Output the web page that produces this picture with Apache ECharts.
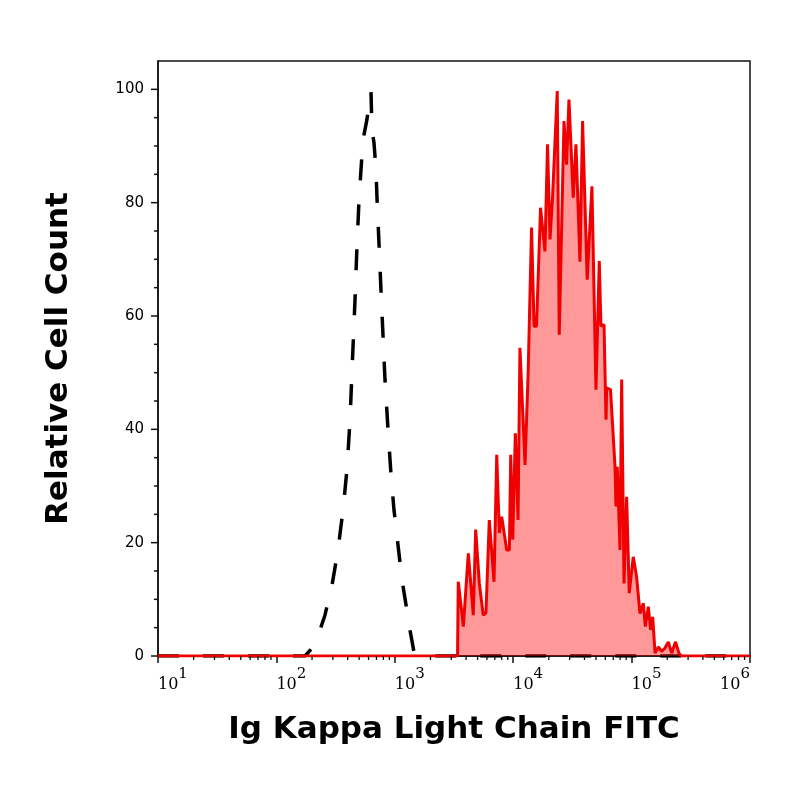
<!DOCTYPE html>
<html><head><meta charset="utf-8">
<script src="https://cdn.jsdelivr.net/npm/echarts@6/dist/echarts.min.js"></script>
<style>html,body{margin:0;padding:0;background:#fff}#c{width:800px;height:800px}</style>
</head><body><div id="c"></div>
<script>
// x values are log10 of fluorescence intensity
const xTickExponents = [1, 2, 3, 4, 5, 6];
const yTickValues = [0, 20, 40, 60, 80, 100];
const yMinorValues = [5, 10, 15, 25, 30, 35, 45, 50, 55, 65, 70, 75, 85, 90, 95];
const xMinorMultipliers = [2, 3, 4, 5, 6, 7, 8, 9];

// Isotype control (black dashed)
const controlLogX = [1, 2.242, 2.301, 2.351, 2.410, 2.470, 2.520, 2.563, 2.596, 2.622, 2.639, 2.664, 2.681, 2.698, 2.723, 2.740, 2.765, 2.782, 2.799, 2.807, 2.824, 2.841, 2.850, 2.867, 2.883, 2.900, 2.917, 2.943, 2.968, 2.993, 3.027, 3.061, 3.095, 3.128, 3.162, 3.196, 6];
const controlCount = [0, 0, 1.4, 3.5, 7.2, 12.5, 18.7, 25.8, 32.9, 41.7, 50.5, 62.9, 72.6, 80.6, 88.5, 92.0, 94.7, 97.3, 99.6, 92.9, 90.6, 85.9, 80.6, 72.6, 64.7, 56.7, 48.8, 39.9, 32.0, 25.8, 19.6, 13.4, 9.0, 4.6, 0.7, 0, 0];

// Ig Kappa stained (red filled)
const stainedLogX = [1, 3.530, 3.536, 3.579, 3.621, 3.663, 3.683, 3.714, 3.747, 3.770, 3.798, 3.838, 3.861, 3.883, 3.903, 3.945, 3.968, 3.979, 3.996, 4.018, 4.041, 4.057, 4.100, 4.127, 4.155, 4.176, 4.197, 4.231, 4.268, 4.290, 4.311, 4.333, 4.372, 4.389, 4.429, 4.451, 4.471, 4.507, 4.530, 4.564, 4.586, 4.625, 4.665, 4.699, 4.727, 4.741, 4.767, 4.784, 4.789, 4.822, 4.860, 4.868, 4.879, 4.902, 4.916, 4.936, 4.958, 4.980, 5.014, 5.042, 5.071, 5.099, 5.116, 5.141, 5.161, 5.178, 5.198, 5.226, 5.254, 5.282, 5.310, 5.338, 5.371, 5.400, 5.420, 6];
const stainedCount = [0, 0, 13.1, 5.2, 18.1, 7.2, 22.3, 12.8, 7.2, 7.6, 24.0, 13.1, 35.5, 21.7, 24.6, 18.7, 18.7, 35.5, 20.5, 39.3, 24.0, 54.4, 33.7, 50.5, 75.6, 58.2, 58.2, 79.1, 71.4, 90.3, 73.5, 81.2, 99.7, 56.7, 94.4, 86.7, 98.2, 80.9, 90.3, 69.6, 94.4, 66.4, 82.9, 47.0, 69.7, 58.2, 58.5, 41.7, 47.3, 47.0, 33.4, 26.4, 33.4, 18.7, 48.8, 12.8, 28.1, 11.1, 17.5, 14.0, 7.5, 9.3, 5.2, 8.7, 4.6, 6.9, 0.5, 1.6, 0.8, 1.4, 2.5, 0.5, 2.5, 0.5, 0, 0];

const controlData = controlLogX.map((x, i) => [x, controlCount[i]]);
const stainedData = stainedLogX.map((x, i) => [x, stainedCount[i]]);

// tick decorations: [kind, value]; kind 0 = x minor, 1 = y minor, 2 = y major
const tickData = [];
for (let d = xTickExponents[0]; d < xTickExponents[xTickExponents.length - 1]; d++) {
  xMinorMultipliers.forEach(m => tickData.push([0, d + Math.log10(m)]));
}
yMinorValues.forEach(v => tickData.push([1, v]));
yTickValues.forEach(v => tickData.push([2, v]));

const chart = echarts.init(document.getElementById('c'), null, {renderer: 'canvas'});
chart.setOption({
  animation: false,
  backgroundColor: '#fff',
  grid: {left: 158, right: 50, top: 61, bottom: 144, show: true, borderColor: '#111', borderWidth: 1.5},
  xAxis: {
    type: 'value', min: 1, max: 6, interval: 1,
    name: 'Ig Kappa Light Chain FITC', nameLocation: 'middle', nameGap: 58,
    nameTextStyle: {fontFamily: 'DejaVu Sans', fontWeight: 'bold', fontSize: 31, color: '#000'},
    axisLine: {show: true, onZero: false, lineStyle: {color: '#111', width: 1.5}},
    axisTick: {show: true, length: 7, lineStyle: {color: '#111', width: 1.5}},
    splitLine: {show: false},
    axisLabel: {
      margin: 11, align: 'left', alignMaxLabel: 'right',
      formatter: v => '{b|10}{s|' + v + '}',
      rich: {
        b: {fontFamily: 'DejaVu Serif', fontSize: 16, color: '#000', lineHeight: 26, verticalAlign: 'bottom'},
        s: {fontFamily: 'DejaVu Serif', fontSize: 15, color: '#000', lineHeight: 15, verticalAlign: 'top'}
      }
    }
  },
  yAxis: {
    type: 'value', min: 0, max: 105, interval: 20,
    name: 'Relative Cell Count', nameLocation: 'middle', nameGap: 84,
    nameTextStyle: {fontFamily: 'DejaVu Sans', fontWeight: 'bold', fontSize: 31, color: '#000'},
    axisLine: {show: true, lineStyle: {color: '#111', width: 1.5}},
    axisTick: {show: false},
    splitLine: {show: false},
    axisLabel: {
      margin: 14, fontFamily: 'DejaVu Sans', fontSize: 15, color: '#000',
      showMaxLabel: false,
      formatter: v => (v % 20 === 0 ? String(v) : '')
    }
  },
  series: [
    {
      type: 'line', data: controlData, showSymbol: false, z: 3,
      lineStyle: {color: '#000', width: 3.5, type: [21, 24]}
    },
    {
      type: 'line', data: stainedData, showSymbol: false, z: 4,
      lineStyle: {color: '#f00000', width: 3},
      areaStyle: {color: 'rgba(255,0,0,0.4)', opacity: 1}
    },
    {
      type: 'custom', data: tickData, z: 5, silent: true,
      renderItem: (params, api) => {
        const kind = api.value(0), v = api.value(1);
        if (kind === 0) {
          const p = api.coord([v, 0]);
          return {type: 'line', shape: {x1: p[0], y1: p[1], x2: p[0], y2: p[1] + 4}, style: {stroke: '#111', lineWidth: 1.3}};
        }
        const p = api.coord([1, v]);
        const len = kind === 2 ? 7 : 4;
        return {type: 'line', shape: {x1: p[0] - len, y1: p[1], x2: p[0], y2: p[1]}, style: {stroke: '#111', lineWidth: 1.5}};
      }
    }
  ]
});
</script>
</body></html>
